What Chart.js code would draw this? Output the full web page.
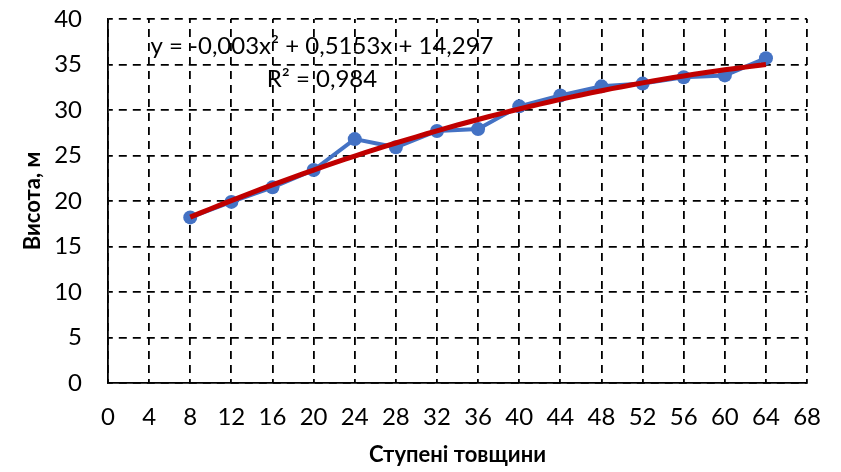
<!DOCTYPE html>
<html>
<head>
<meta charset="utf-8">
<script src="https://cdn.jsdelivr.net/npm/chart.js@4/dist/chart.umd.min.js"></script>
<style>
  html, body { margin: 0; padding: 0; background: #fff; }
  #wrap { width: 841px; height: 472px; }
</style>
</head>
<body>
<div id="wrap"><canvas id="heightChart"></canvas></div>
<script>
// thickness class (cm) and measured mean height (m)
const thicknessSteps = [8, 12, 16, 20, 24, 28, 32, 36, 40, 44, 48, 52, 56, 60, 64];
const heights = [18.2, 19.9, 21.5, 23.4, 26.8, 25.9, 27.7, 27.9, 30.4, 31.6, 32.6, 32.9, 33.6, 33.8, 35.7];

// polynomial trend: a*x^2 + b*x + c
const trendCoefs = [-0.003, 0.5153, 14.297];
const trendR2 = 0.984;

const fmt = (v) => String(v).replace(".", ",");

function trendAt(x) {
  return trendCoefs[0] * x * x + trendCoefs[1] * x + trendCoefs[2];
}

const trendPoints = [];
for (let x = thicknessSteps[0]; x <= thicknessSteps[thicknessSteps.length - 1]; x += 1) {
  trendPoints.push({ x: x, y: trendAt(x) });
}

const measured = thicknessSteps.map((x, i) => ({ x: x, y: heights[i] }));

const equationLabel = {
  id: "equationLabel",
  afterDatasetsDraw(chart) {
    const ctx = chart.ctx;
    const a = trendCoefs[0], b = trendCoefs[1], c = trendCoefs[2];
    const line1 = `y = ${fmt(a)}x² + ${fmt(b)}x + ${fmt(c)}`;
    const line2 = `R² = ${fmt(trendR2)}`;
    ctx.save();
    ctx.font = "24px Lato";
    ctx.fillStyle = "#000";
    ctx.textAlign = "center";
    ctx.textBaseline = "middle";
    ctx.fillText(line1, 322, 46);
    ctx.fillText(line2, 322, 79);
    ctx.restore();
  },
};

const tickFont = { family: "Lato", size: 24 };
const titleFont = { family: "Lato", size: 22, weight: "bold" };

const config = {
  type: "scatter",
  data: {
    datasets: [
      {
        label: "trend",
        data: trendPoints,
        showLine: true,
        borderColor: "#C00000",
        borderWidth: 5,
        pointRadius: 0,
        tension: 0,
        order: 0,
      },
      {
        label: "height",
        data: measured,
        showLine: true,
        borderColor: "#4472C4",
        backgroundColor: "#4472C4",
        borderWidth: 4,
        pointRadius: 7,
        pointBorderWidth: 0,
        order: 1,
      },
    ],
  },
  options: {
    responsive: true,
    maintainAspectRatio: false,
    animation: false,
    layout: { padding: { top: 19, right: 26, left: 0, bottom: 0 } },
    plugins: {
      legend: false,
      tooltip: { enabled: false },
    },
    scales: {
      x: {
        type: "linear",
        min: 0,
        max: 68,
        ticks: { stepSize: 4, color: "#000", font: tickFont, padding: 20, maxRotation: 0 },
        grid: { color: "#000", lineWidth: 1.8, drawTicks: false },
        border: { display: true, color: "#000", width: 1.8, dash: [8, 6], dashOffset: 4 },
        title: { display: true, text: "Ступені товщини", color: "#000", font: titleFont, padding: { bottom: 4 } },
        afterFit: (scale) => { scale.height = 89; },
      },
      y: {
        min: 0,
        max: 40,
        ticks: { stepSize: 5, color: "#000", font: tickFont, padding: 26 },
        grid: { color: "#000", lineWidth: 1.8, drawTicks: false },
        border: { display: true, color: "#000", width: 1.8, dash: [8, 6], dashOffset: 4 },
        title: { display: true, text: "Висота, м", color: "#000", font: titleFont, padding: { top: 20 } },
        afterFit: (scale) => {
          scale.width = 108;
          // keep the label padding from pushing the plot area down
          scale.paddingTop = 0;
          scale.paddingBottom = 0;
        },
      },
    },
  },
  plugins: [equationLabel],
};

new Chart(document.getElementById("heightChart"), config);
</script>
</body>
</html>
